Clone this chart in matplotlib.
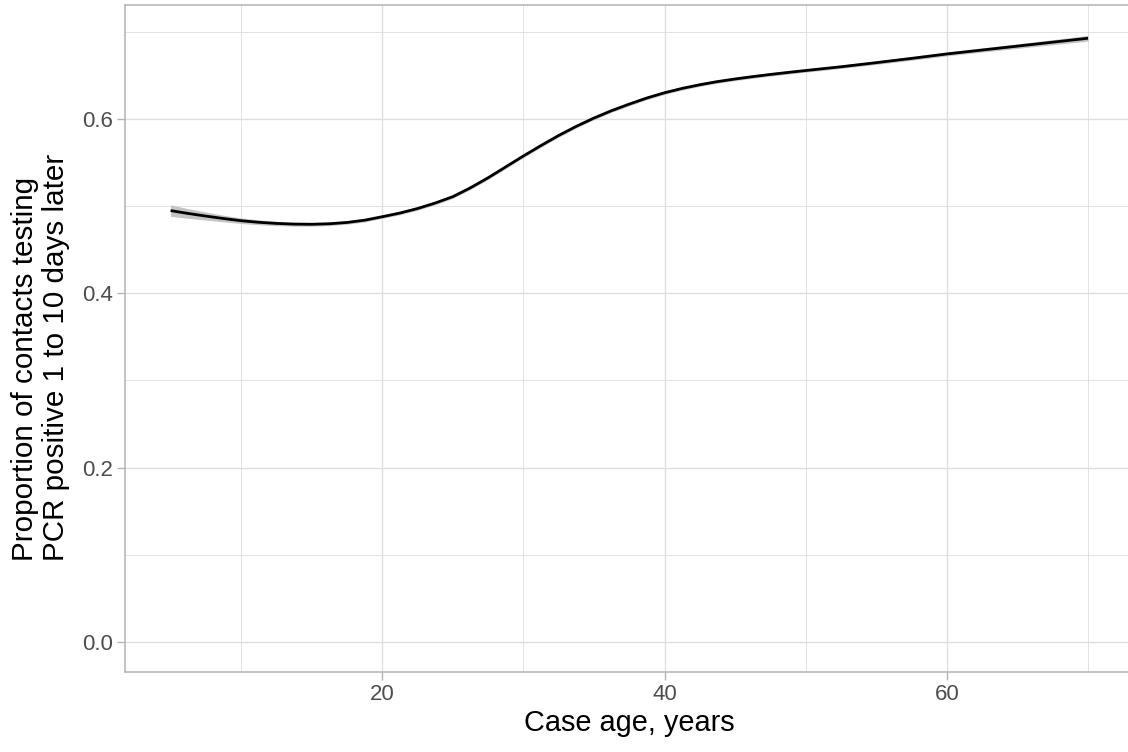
import matplotlib
matplotlib.use("Agg")
import matplotlib.pyplot as plt
import numpy as np

age = [5, 6.25, 7.5, 8.75, 10, 11.25, 12.5, 13.75, 15, 16.25, 17.5, 18.75,
       20, 21.25, 22.5, 23.75, 25, 26.25, 27.5, 28.75, 30, 31.25, 32.5, 33.75,
       35, 36.25, 37.5, 38.75, 40, 41.25, 42.5, 43.75, 45, 46.25, 47.5, 48.75,
       50, 52.5, 55, 57.5, 60, 62.5, 65, 67.5, 70]
prop = [0.4948, 0.4915, 0.4885, 0.4857, 0.4832, 0.4814, 0.4801, 0.4793, 0.4791,
        0.4797, 0.4812, 0.4838, 0.4878, 0.4920, 0.4972, 0.5035, 0.5108, 0.5210,
        0.5325, 0.5450, 0.5575, 0.5695, 0.5810, 0.5915, 0.6010, 0.6095, 0.6170,
        0.6240, 0.6300, 0.6350, 0.6392, 0.6428, 0.6458, 0.6485, 0.6510, 0.6533,
        0.6555, 0.6598, 0.6645, 0.6694, 0.6745, 0.6790, 0.6835, 0.6880, 0.6925]
halfwidth = [0.0066, 0.0055, 0.0046, 0.0038, 0.0032, 0.0028, 0.0025, 0.0023, 0.0022,
             0.0021, 0.0020, 0.0020, 0.0019, 0.0019, 0.0019, 0.0019, 0.0019, 0.0019,
             0.0019, 0.0019, 0.0019, 0.0019, 0.0019, 0.0019, 0.0019, 0.0019, 0.0019,
             0.0019, 0.0019, 0.0019, 0.0019, 0.0019, 0.0019, 0.0019, 0.0019, 0.0019,
             0.0019, 0.0019, 0.0020, 0.0021, 0.0022, 0.0024, 0.0026, 0.0029, 0.0033]
x_ticks = [20, 40, 60]
x_minor = [10, 30, 50, 70]
y_ticks = [0.0, 0.2, 0.4, 0.6]
y_minor = [0.1, 0.3, 0.5, 0.7]

plt.rcParams['font.family'] = ['Liberation Sans', 'DejaVu Sans']

fig = plt.figure(figsize=(11.28, 7.52), dpi=100)
ax = fig.add_axes([124.7 / 1128, (752 - 672.3) / 752,
                   (1133.9 - 124.7) / 1128, (672.3 - 5.3) / 752])

a = np.array(age)
p = np.array(prop)
h = np.array(halfwidth)
ax.fill_between(a, p - h, p + h, color='#c4c4c4', lw=0, zorder=2)
ax.plot(a, p, color='black', lw=2.0, zorder=3, solid_capstyle='butt',
        solid_joinstyle='round')

ax.set_xlim(1.75, 73.25)
ax.set_ylim(-0.0348, 0.7303)
ax.set_xticks(x_ticks)
ax.set_xticks(x_minor, minor=True)
ax.set_yticks(y_ticks)
ax.set_yticks(y_minor, minor=True)
ax.set_xticklabels([str(t) for t in x_ticks])
ax.set_yticklabels([f"{t:.1f}" for t in y_ticks])

ax.grid(True, which='major', color='#dedede', lw=0.95, zorder=0)
ax.grid(True, which='minor', color='#dedede', lw=0.6, zorder=0)
ax.set_axisbelow(True)

for s in ax.spines.values():
    s.set_color('#b3b3b3')
    s.set_linewidth(1.1)

ax.tick_params(which='major', length=5.5, width=1.0, color='#b3b3b3',
               labelsize=16, labelcolor='#4d4d4d', pad=3)
ax.tick_params(which='minor', length=0)

ax.set_xlabel('Case age, years', fontsize=20.8, color='black', labelpad=3)
fig.text(40.5 / 1128, (752 - 561) / 752,
         'Proportion of contacts testing\nPCR positive 1 to 10 days later',
         rotation=90, ha='center', va='bottom', multialignment='left',
         fontsize=21.3, color='black', linespacing=1.15)

fig.savefig('out.png', dpi=100)
